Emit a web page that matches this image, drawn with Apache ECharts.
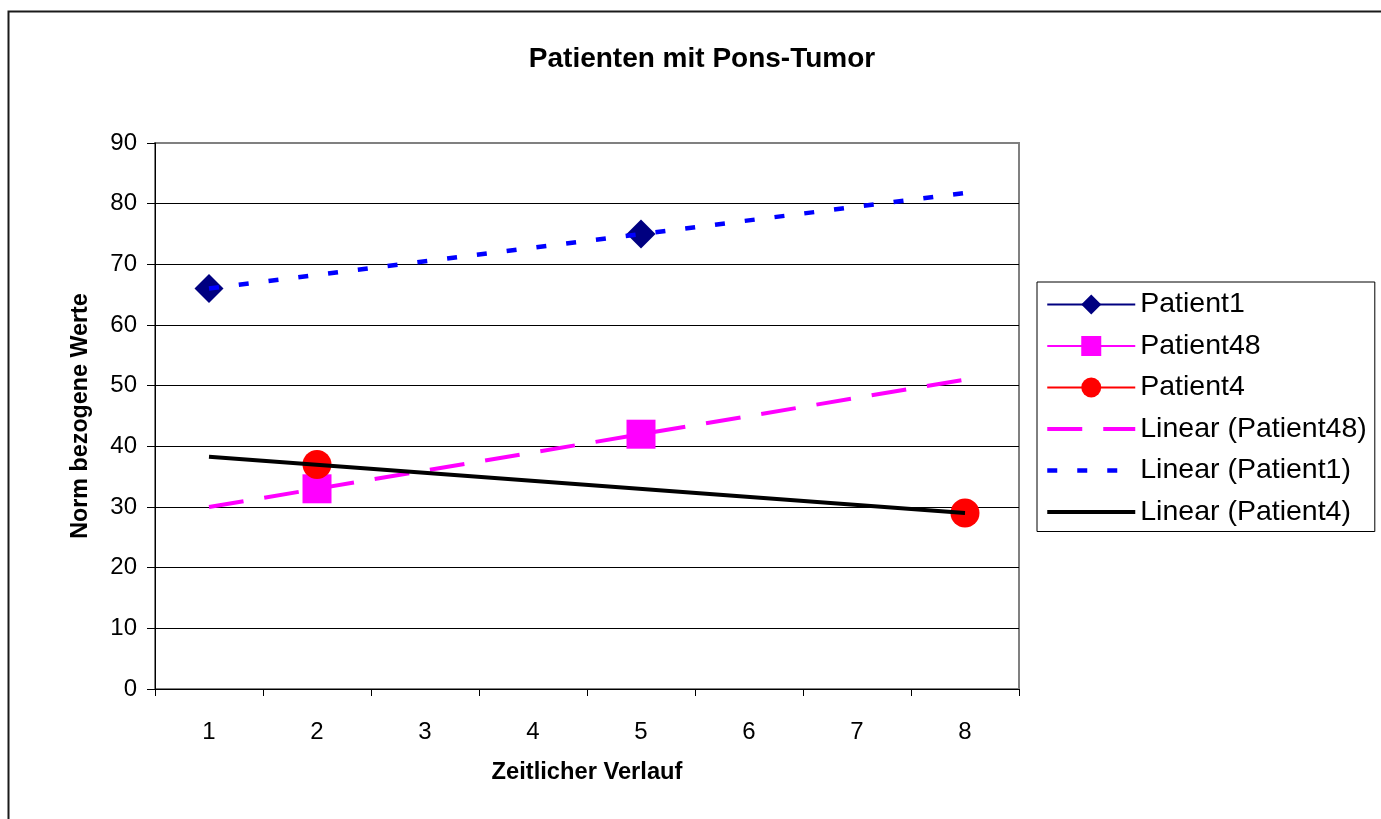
<!DOCTYPE html>
<html>
<head>
<meta charset="utf-8">
<script src="https://cdn.jsdelivr.net/npm/echarts@6/dist/echarts.min.js"></script>
<style>
html,body{margin:0;padding:0;background:#fff;}
#chart{width:1381px;height:819px;}
</style>
</head>
<body>
<div id="chart"></div>
<script>
// ---- data ----
const categories = ['1', '2', '3', '4', '5', '6', '7', '8'];
const yTicks = [0, 10, 20, 30, 40, 50, 60, 70, 80, 90];
const patient1  = [66, null, null, null, 75, null, null, null];
const patient48 = [null, 33, null, null, 42, null, null, null];
const patient4  = [null, 37, null, null, null, null, null, 29];
// trend lines: values read at categories 1 and 8
const trend48 = [30, null, null, null, null, null, null, 51];
const trend1  = [66, null, null, null, null, null, null, 81.75];
const trend4  = [38.3, null, null, null, null, null, null, 29];

const FONT = '"Liberation Sans", Arial, sans-serif';
const chart = echarts.init(document.getElementById('chart'), null, {renderer: 'canvas'});

const hidden = {color: 'rgba(0,0,0,0)', borderWidth: 0, opacity: 0};

chart.setOption({
  animation: false,
  backgroundColor: '#fff',
  textStyle: {fontFamily: FONT, color: '#000'},
  title: {
    text: 'Patienten mit Pons-Tumor',
    left: 697, top: 40, textAlign: 'center',
    textStyle: {fontFamily: FONT, fontSize: 28, fontWeight: 'bold', color: '#000'}
  },
  graphic: [{
    type: 'rect', silent: true, z: -1,
    shape: {x: 8.5, y: 11.5, width: 1420, height: 900},
    style: {fill: 'none', stroke: '#1a1a1a', lineWidth: 2}
  }],
  grid: {
    left: 155, top: 143, right: 362, bottom: 130,
    show: true, borderColor: '#808080', borderWidth: 2, backgroundColor: '#fff'
  },
  legend: {
    orient: 'vertical',
    left: 1037, top: 282,
    padding: [8, 8, 5, 8],
    borderColor: '#000', borderWidth: 1, backgroundColor: '#fff',
    itemWidth: 88, itemHeight: 25, itemGap: 12.5,
    textStyle: {fontFamily: FONT, fontSize: 28.5, color: '#000', lineHeight: 28},
    data: [
      {name: 'Patient1'},
      {name: 'Patient48'},
      {name: 'Patient4'},
      {name: 'Linear (Patient48)', itemStyle: hidden,
       lineStyle: {color: '#FF00FF', width: 4, type: [35, 21]}},
      {name: 'Linear (Patient1)', itemStyle: hidden,
       lineStyle: {color: '#0000FF', width: 4.5, type: [10, 20]}},
      {name: 'Linear (Patient4)', itemStyle: hidden,
       lineStyle: {color: '#000000', width: 4, type: 'solid'}}
    ]
  },
  xAxis: {
    type: 'category',
    data: categories,
    boundaryGap: true,
    name: 'Zeitlicher Verlauf',
    nameLocation: 'middle',
    nameGap: 71,
    nameTextStyle: {fontFamily: FONT, fontSize: 23.7, fontWeight: 'bold', color: '#000'},
    axisLine: {lineStyle: {color: '#000', width: 1}},
    axisTick: {show: true, length: 7, lineStyle: {color: '#000'}},
    axisLabel: {fontFamily: FONT, fontSize: 24, color: '#000', margin: 31},
    splitLine: {show: false}
  },
  yAxis: {
    type: 'value',
    min: yTicks[0], max: yTicks[yTicks.length - 1], interval: 10,
    name: 'Norm bezogene Werte',
    nameLocation: 'middle',
    nameGap: 63,
    nameTextStyle: {fontFamily: FONT, fontSize: 23.3, fontWeight: 'bold', color: '#000'},
    axisLine: {show: true, lineStyle: {color: '#000', width: 1}},
    axisTick: {show: true, length: 8, lineStyle: {color: '#000'}},
    axisLabel: {fontFamily: FONT, fontSize: 24, color: '#000', margin: 18},
    splitLine: {show: true, lineStyle: {
      color: ['#000', '#000', '#000', '#000', '#000', '#000', '#000', '#000', '#000', '#808080'],
      width: 1}}
  },
  series: [
    {
      name: 'Patient1', type: 'line', data: patient1, z: 2,
      connectNulls: false, symbol: 'diamond', symbolSize: 29, showAllSymbol: true,
      itemStyle: {color: '#000080'}, lineStyle: {color: '#000080', width: 2}
    },
    {
      name: 'Patient48', type: 'line', data: patient48, z: 2,
      connectNulls: false, symbol: 'rect', symbolSize: 29, showAllSymbol: true,
      itemStyle: {color: '#FF00FF'}, lineStyle: {color: '#FF00FF', width: 2}
    },
    {
      name: 'Patient4', type: 'line', data: patient4, z: 2,
      connectNulls: false, symbol: 'circle', symbolSize: 29, showAllSymbol: true,
      itemStyle: {color: '#FF0000'}, lineStyle: {color: '#FF0000', width: 2}
    },
    {
      name: 'Linear (Patient48)', type: 'line', data: trend48, z: 5,
      connectNulls: true, symbol: 'none',
      itemStyle: {color: '#FF00FF'},
      lineStyle: {color: '#FF00FF', width: 4, type: [35, 21]}
    },
    {
      name: 'Linear (Patient1)', type: 'line', data: trend1, z: 5,
      connectNulls: true, symbol: 'none',
      itemStyle: {color: '#0000FF'},
      lineStyle: {color: '#0000FF', width: 4.5, type: [10, 20]}
    },
    {
      name: 'Linear (Patient4)', type: 'line', data: trend4, z: 5,
      connectNulls: true, symbol: 'none',
      itemStyle: {color: '#000'},
      lineStyle: {color: '#000', width: 4}
    }
  ]
});
</script>
</body>
</html>
